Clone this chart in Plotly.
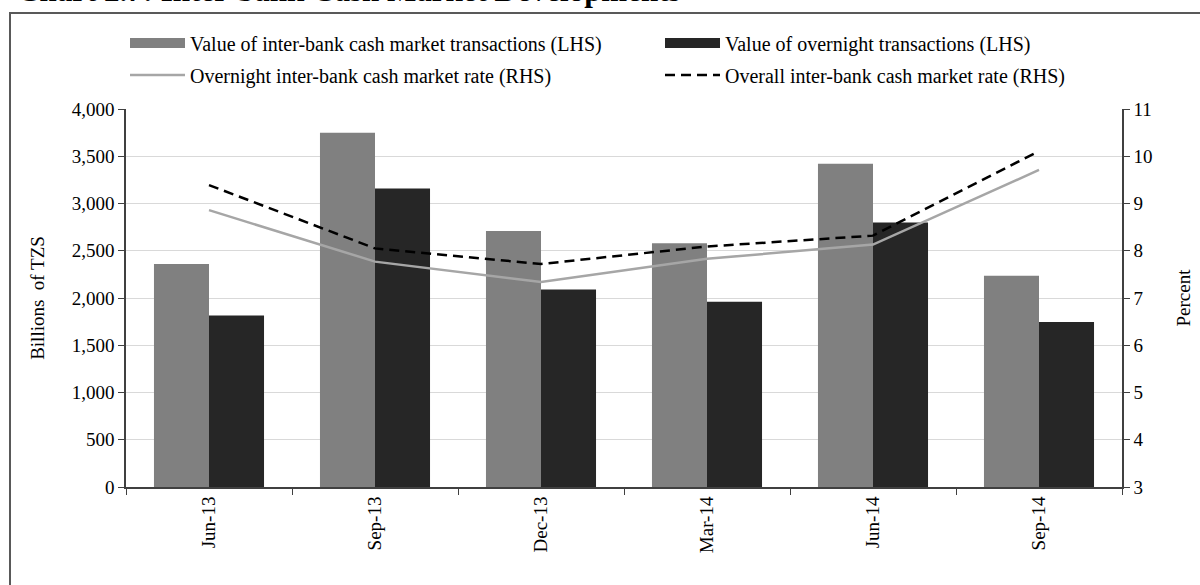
import plotly.graph_objects as go

categories = ["Jun-13", "Sep-13", "Dec-13", "Mar-14", "Jun-14", "Sep-14"]
interbank_value = [2360, 3750, 2710, 2580, 3420, 2235]
overnight_value = [1815, 3160, 2090, 1960, 2800, 1745]
overnight_rate = [8.86, 7.77, 7.34, 7.83, 8.13, 9.71]
overall_rate = [9.39, 8.05, 7.72, 8.09, 8.32, 10.11]

names = ["Value of inter-bank cash market transactions (LHS)",
         "Value of overnight transactions (LHS)",
         "Overnight inter-bank cash market rate (RHS)",
         "Overall inter-bank cash market rate (RHS)"]
bar_colors = ["#808080", "#262626"]

FONT = "Liberation Serif, Times New Roman, serif"

fig = go.Figure()
fig.add_trace(go.Bar(x=categories, y=interbank_value, name=names[0], showlegend=False,
                     marker=dict(color=bar_colors[0], line=dict(width=0))))
fig.add_trace(go.Bar(x=categories, y=overnight_value, name=names[1], showlegend=False,
                     marker=dict(color=bar_colors[1], line=dict(width=0))))
# legend proxies for bars (wide rectangular swatches)
for nm, c in zip(names[:2], bar_colors):
    fig.add_trace(go.Scatter(x=[None], y=[None], name=nm, mode="lines",
                             line=dict(color=c, width=12), legend="legend"))
fig.add_trace(go.Scatter(x=categories, y=overnight_rate, name=names[2], legend="legend2",
                         mode="lines", line=dict(color="#a6a6a6", width=2.5), yaxis="y2"))
fig.add_trace(go.Scatter(x=categories, y=overall_rate, name=names[3], legend="legend2",
                         mode="lines", line=dict(color="#000000", width=2.5, dash="10px,6px"), yaxis="y2"))

leg_common = dict(orientation="h", xanchor="left", yanchor="middle",
                  entrywidth=465, entrywidthmode="pixels", traceorder="normal",
                  font=dict(family=FONT, size=20), bgcolor="rgba(0,0,0,0)", itemwidth=55)

fig.update_layout(
    width=1200, height=585,
    margin=dict(l=126, r=78, t=109, b=98, autoexpand=False),
    paper_bgcolor="white", plot_bgcolor="white",
    font=dict(family=FONT, size=19, color="#000000"),
    barmode="group", bargap=0.337, bargroupgap=0,
    showlegend=True,
    legend=dict(x=-0.001, y=(487 - 43) / 378, **leg_common),
    legend2=dict(x=-0.001, y=(487 - 75) / 378, **leg_common),
    xaxis=dict(type="category", tickangle=-90, tickson="boundaries", ticks="outside", ticklen=6,
               tickcolor="#404040", showline=True, linecolor="#404040", linewidth=2,
               showgrid=False, automargin=False, tickfont=dict(family=FONT, size=19)),
    yaxis=dict(range=[0, 4000], dtick=500, tickformat=",d", ticks="outside", ticklen=6,
               tickcolor="#404040", showline=True, linecolor="#404040", linewidth=1.5,
               showgrid=True, gridcolor="#d9d9d9", gridwidth=1, zeroline=False, automargin=False,
               tickfont=dict(family=FONT, size=19),
               title=dict(text="Billions\u00a0 of TZS", font=dict(family=FONT, size=19), standoff=22)),
    yaxis2=dict(range=[3, 11], dtick=1, overlaying="y", side="right", ticks="outside", ticklen=6,
                tickcolor="#404040", showline=True, linecolor="#404040", linewidth=1.5,
                showgrid=False, zeroline=False, automargin=False,
                tickfont=dict(family=FONT, size=19),
                title=dict(text="Percent", font=dict(family=FONT, size=19), standoff=25)),
)

fig.add_shape(type="rect", xref="paper", yref="paper", x0=(10 - 126) / 996, x1=1.2, y0=-0.4,
              y1=(487 - 13) / 378,
              line=dict(color="#595959", width=2), fillcolor="rgba(0,0,0,0)", layer="below")

fig.add_annotation(text="<b>Chart 2.7: Inter-bank Cash Market Developments</b>", xref="paper", yref="paper",
                   x=(15 - 126) / 996, y=(487 + 9.5) / 378, xanchor="left", yanchor="middle", showarrow=False,
                   font=dict(family=FONT, size=31, color="#000000"))

fig.write_html("out.html", config={"displayModeBar": False},
               post_script="document.body.style.margin='0';")
